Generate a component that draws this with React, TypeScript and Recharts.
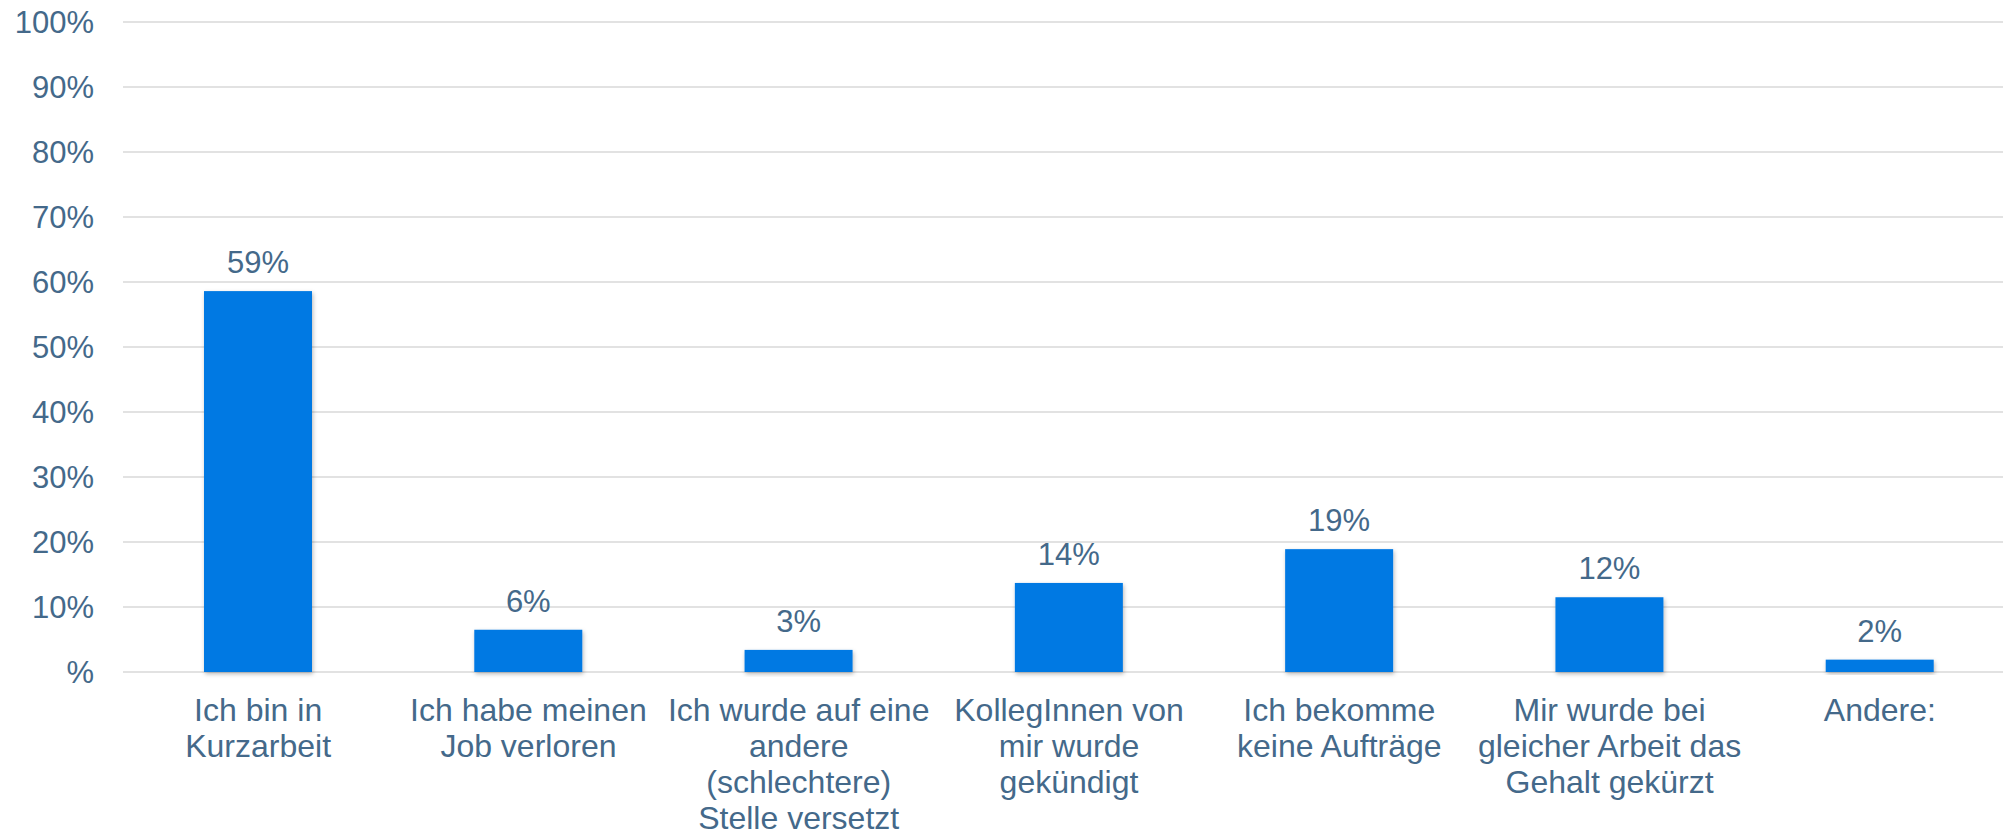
import React from "react";
import { BarChart, Bar, XAxis, YAxis, CartesianGrid, LabelList } from "recharts";

const categories = [
  "Ich bin in Kurzarbeit",
  "Ich habe meinen Job verloren",
  "Ich wurde auf eine andere (schlechtere) Stelle versetzt",
  "KollegInnen von mir wurde gekündigt",
  "Ich bekomme keine Aufträge",
  "Mir wurde bei gleicher Arbeit das Gehalt gekürzt",
  "Andere:",
];

const categoryLines: string[][] = [
  ["Ich bin in", "Kurzarbeit"],
  ["Ich habe meinen", "Job verloren"],
  ["Ich wurde auf eine", "andere", "(schlechtere)", "Stelle versetzt"],
  ["KollegInnen von", "mir wurde", "gekündigt"],
  ["Ich bekomme", "keine Aufträge"],
  ["Mir wurde bei", "gleicher Arbeit das", "Gehalt gekürzt"],
  ["Andere:"],
];

const values = [58.6, 6.5, 3.4, 13.7, 18.9, 11.5, 1.9];
const valueLabels = ["59%", "6%", "3%", "14%", "19%", "12%", "2%"];
const yTicks = [0, 10, 20, 30, 40, 50, 60, 70, 80, 90, 100];

const data = categories.map((c, i) => ({
  name: c,
  value: values[i],
  label: valueLabels[i],
  idx: i,
}));

const TEXT = "#44698a";
const BAR = "#0079e3";
const FONT = "'Liberation Sans', Arial, sans-serif";

const XTick = (props: any) => {
  const { x, y, payload } = props;
  const lines = categoryLines[payload.index] || [String(payload.value)];
  return (
    <text x={x} y={y} textAnchor="middle" fill={TEXT} fontSize={32} fontFamily={FONT}>
      {lines.map((l, i) => (
        <tspan key={i} x={x} dy={i === 0 ? 49 : 36}>
          {l}
        </tspan>
      ))}
    </text>
  );
};

const ShadowBar = (props: any) => {
  const { x, y, width, height } = props;
  if (height <= 0) return null;
  return <rect x={x} y={y} width={width} height={height} fill={BAR} filter="url(#barShadow)" />;
};

export default function App() {
  return (
    <div
      style={{
        position: "fixed",
        left: 0,
        top: 0,
        width: 2003,
        height: 835,
        overflow: "hidden",
        background: "#fff",
      }}
    >
      <svg width={0} height={0} style={{ position: "absolute" }}>
        <defs>
          <filter id="barShadow" x="-20%" y="-20%" width="140%" height="140%">
            <feDropShadow dx={1} dy={2} stdDeviation={2} floodColor="#000" floodOpacity={0.28} />
          </filter>
        </defs>
      </svg>
      <BarChart
        width={2015}
        height={835}
        data={data}
        margin={{ top: 22, right: 0, bottom: 0, left: 0 }}
        barSize={108}
      >
        <CartesianGrid vertical={false} stroke="#d9d9d9" strokeWidth={1.5} />
        <XAxis
          dataKey="name"
          interval={0}
          tick={<XTick />}
          tickLine={false}
          axisLine={false}
          tickSize={0}
          tickMargin={0}
          height={163}
        />
        <YAxis
          domain={[0, 100]}
          ticks={yTicks}
          interval={0}
          width={123}
          tickLine={false}
          axisLine={false}
          tickSize={0}
          tickMargin={29}
          tickFormatter={(v: number) => (v === 0 ? "%" : `${v}%`)}
          tick={{ fill: TEXT, fontSize: 31, fontFamily: FONT }}
        />
        <Bar dataKey="value" fill={BAR} isAnimationActive={false} shape={<ShadowBar />}>
          <LabelList
            dataKey="label"
            position="top"
            offset={18}
            fill={TEXT}
            fontSize={31}
            fontFamily={FONT}
          />
        </Bar>
      </BarChart>
    </div>
  );
}
